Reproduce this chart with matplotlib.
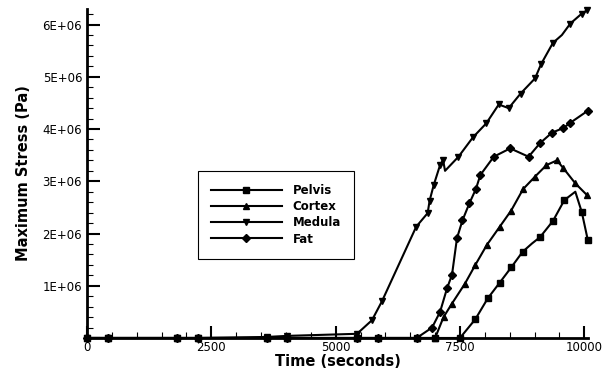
import matplotlib.pyplot as plt
from matplotlib.ticker import MultipleLocator, FuncFormatter

# Values (time in s, stress in Pa)
base_t = [0, 420, 1810, 2230, 3620, 4020, 5430, 5860, 6630]

pelvis_t = base_t + [7000, 7500, 7810, 8060, 8300, 8530, 8760, 8950, 9110,
                     9370, 9600, 9820, 9950, 10070]
pelvis_y = [0] * 11 + [0.36e6, 0.76e6, 1.06e6, 1.35e6, 1.65e6, 1.81e6, 1.93e6,
                       2.24e6, 2.64e6, 2.80e6, 2.41e6, 1.88e6]

cortex_t = base_t + [7000, 7170, 7340, 7600, 7810, 8040, 8300, 8530, 8770,
                     9010, 9240, 9450, 9580, 9820, 10050]
cortex_y = [0] * 10 + [0.40e6, 0.66e6, 1.04e6, 1.40e6, 1.78e6, 2.13e6, 2.44e6,
                       2.85e6, 3.09e6, 3.31e6, 3.40e6, 3.25e6, 2.96e6, 2.74e6]

medula_t = [0, 420, 1810, 2230, 3620, 4020, 5430, 5730, 5930, 6620, 6850, 6890,
            6970, 7100, 7160, 7200, 7470, 7760, 8030, 8280, 8480, 8720, 9010,
            9130, 9370, 9550, 9720, 9950, 10050]
medula_y = [0, 0, 0, 0, 0.02e6, 0.04e6, 0.08e6, 0.34e6, 0.70e6, 2.13e6, 2.39e6,
            2.63e6, 2.92e6, 3.31e6, 3.41e6, 3.20e6, 3.47e6, 3.84e6, 4.11e6,
            4.47e6, 4.40e6, 4.68e6, 4.97e6, 5.24e6, 5.65e6, 5.80e6, 6.02e6,
            6.21e6, 6.27e6]

fat_t = base_t + [6940, 7100, 7240, 7340, 7440, 7550, 7690, 7820, 7910, 8180,
                  8510, 8880, 9110, 9350, 9580, 9720, 10070]
fat_y = [0] * 9 + [0.20e6, 0.50e6, 0.95e6, 1.21e6, 1.91e6, 2.25e6, 2.58e6,
                   2.85e6, 3.12e6, 3.47e6, 3.63e6, 3.47e6, 3.73e6, 3.93e6,
                   4.02e6, 4.12e6, 4.35e6]

fig = plt.figure(figsize=(6.15, 3.71), dpi=100)
ax = fig.add_axes([0.1415, 0.089, 0.815, 0.887])

pelvis_marks = [i for i in range(len(pelvis_t)) if i not in (16, 20)]
medula_marks = [i for i in range(len(medula_t)) if i not in (15, 25)]

ax.plot(pelvis_t, pelvis_y, color='black', lw=1.5, marker='s', ms=5,
        markevery=pelvis_marks, label='Pelvis', clip_on=False)
ax.plot(cortex_t, cortex_y, color='black', lw=1.5, marker='^', ms=5,
        label='Cortex', clip_on=False)
ax.plot(medula_t, medula_y, color='black', lw=1.5, marker='v', ms=5,
        markevery=medula_marks, label='Medula', clip_on=False)
ax.plot(fat_t, fat_y, color='black', lw=1.5, marker='D', ms=4.5, label='Fat',
        clip_on=False)

ax.set_xlim(0, 10080)
ax.set_ylim(0, 6.3e6)

ax.xaxis.set_major_locator(MultipleLocator(2500))
ax.xaxis.set_minor_locator(MultipleLocator(500))
ax.yaxis.set_major_locator(MultipleLocator(1e6))
ax.yaxis.set_minor_locator(MultipleLocator(2e5))
ax.yaxis.set_major_formatter(FuncFormatter(lambda v, p: '' if v == 0 else '{:.0E}'.format(v)))

ax.tick_params(which='major', direction='in', length=9, width=1.5, labelsize=8.5)
ax.tick_params(axis='x', which='major', pad=2)
ax.tick_params(which='minor', direction='in', length=4.5, width=0.8)

for s in ['top', 'right']:
    ax.spines[s].set_visible(False)
for s in ['left', 'bottom']:
    ax.spines[s].set_linewidth(2)

ax.set_xlabel('Time (seconds)', fontsize=10.5, fontweight='bold', labelpad=0)
ax.set_ylabel('Maximum Stress (Pa)', fontsize=10.5, fontweight='bold', labelpad=8)

leg = ax.legend(loc='upper left', bbox_to_anchor=(0.322, 0.539),
                bbox_transform=fig.transFigure, borderaxespad=0,
                fancybox=False, edgecolor='black', framealpha=1,
                handlelength=6, handletextpad=0.9, labelspacing=0.27,
                borderpad=1.1, prop={'weight': 'bold', 'size': 8.5})
leg.get_frame().set_linewidth(0.8)

fig.savefig('out.png', dpi=100)
